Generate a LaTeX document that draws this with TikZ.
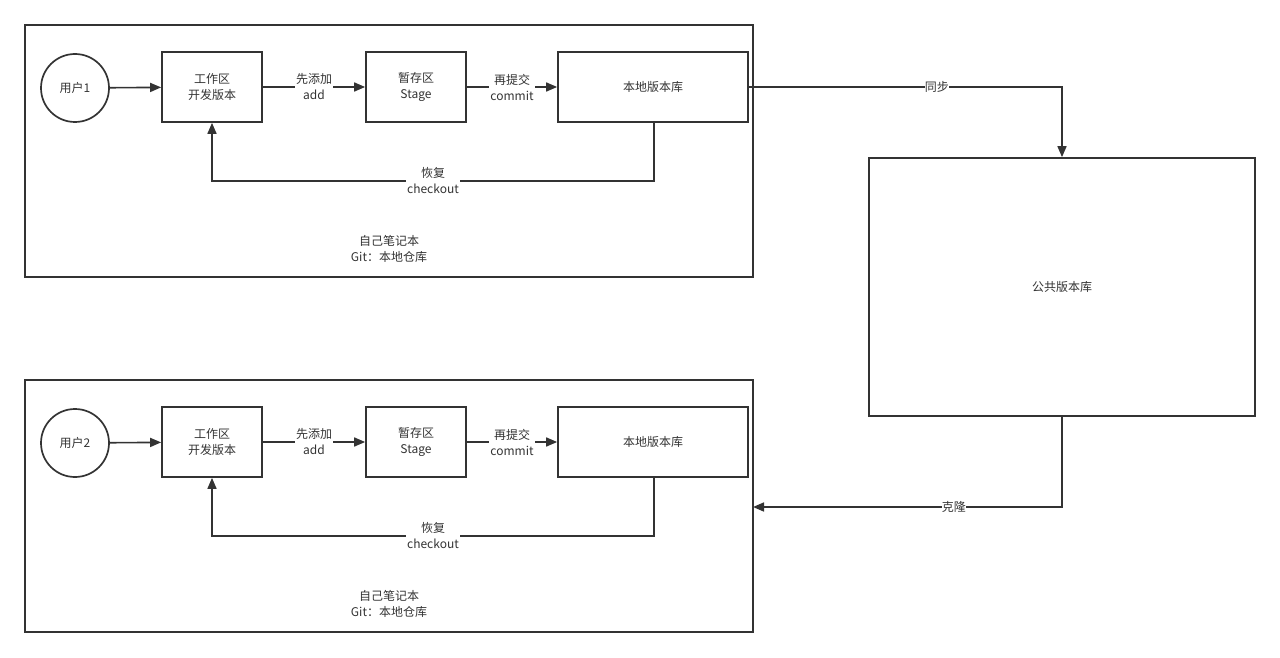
\documentclass[tikz,border=0pt]{standalone}
\usepackage{fontspec}
\setmainfont{Noto Sans CJK SC}
\usetikzlibrary{arrows.meta,positioning}
\definecolor{ln}{HTML}{333333}
\begin{document}
\begin{tikzpicture}[x=1pt,y=-1pt,
  every node/.style={font=\fontsize{12pt}{16pt}\selectfont,text=ln,align=center},
  box/.style={draw=ln,line width=1.7pt,rectangle,inner sep=0pt},
  conn/.style={draw=ln,line width=1.6pt,-{Triangle[length=11pt,width=9pt]}},
  lbl/.style={fill=white,inner sep=1pt}]
\useasboundingbox (0,0) rectangle (1280,658);
% shared
\node[box,minimum width=386pt,minimum height=258pt] (pub) at (1062,287) {公共版本库};
\foreach \k/\dy in {1/0,2/355}{
  \node[box,minimum width=728pt,minimum height=252pt] (outer\k) at (389,151+\dy) {};
  \node at (389,249+\dy) {自己笔记本\\Git：本地仓库};
  \node[box,circle,minimum size=68pt] (user\k) at (75,88+\dy) {用户\k};
  \node[box,minimum width=100pt,minimum height=70pt] (work\k) at (212,87+\dy) {工作区\\开发版本};
  \node[box,minimum width=100pt,minimum height=70pt] (stage\k) at (416,87+\dy) {暂存区\\Stage};
  \node[box,minimum width=190pt,minimum height=70pt] (repo\k) at (653,87+\dy) {本地版本库};
  \draw[conn] (user\k) -- (work\k);
  \draw[conn] (work\k) -- node[lbl]{先添加\\add} (stage\k);
  \draw[conn] (stage\k) -- node[lbl]{再提交\\commit} (repo\k);
  \coordinate (c\k a) at (654,181+\dy);
  \coordinate (c\k b) at (212,181+\dy);
  \draw[conn] (repo\k.south -| c\k a) -- (c\k a) -- node[lbl]{恢复\\checkout} (c\k b) -- (work\k.south);
}
\coordinate (s1) at (1062,87);
\draw[conn] (repo1.east) -- node[lbl,pos=0.6,inner sep=0pt]{同步} (s1) -- (pub.north);
\coordinate (k1) at (1062,507);
\coordinate (k2) at (753,507);
\draw[conn] (pub.south) -- (k1) -- node[lbl,pos=0.35,inner sep=0pt]{克隆} (k2);
\end{tikzpicture}
\end{document}
